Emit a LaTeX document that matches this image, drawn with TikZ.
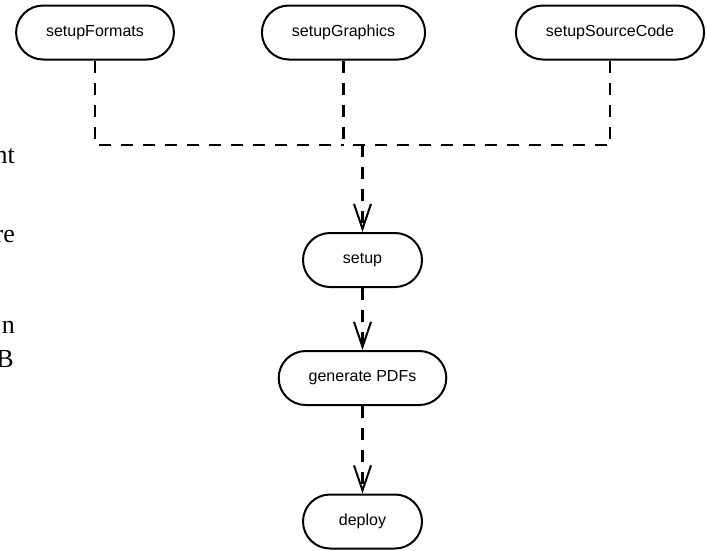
\documentclass[tikz,border=0pt]{standalone}
\usepackage{fontspec}
\setmainfont{Liberation Serif}
\newfontfamily\boxfont{Liberation Sans}
\usetikzlibrary{arrows.meta}
\begin{document}
\begin{tikzpicture}[x=1pt,y=-1pt,
  act/.style={draw, line width=2pt, rounded corners=27pt, minimum height=54pt,
    minimum width=119pt, inner xsep=30pt, inner ysep=0pt,
    font=\boxfont\fontsize{16}{19}\selectfont},
  flow/.style={line width=2.4pt, dash pattern=on 12pt off 10pt},
  arr/.style={flow, -{Straight Barb[length=25pt,width=17pt,line width=2pt]}},
  side/.style={font=\fontsize{26}{30}\selectfont, anchor=base east, inner sep=0pt}]
\useasboundingbox (0,0) rectangle (707,550);
\clip (0,0) rectangle (707,550);
% clipped text at the left edge
\node[side] (t1) at (15,163) {nt};
\node[side] (t2) at (15,242) {re};
\node[side] (t3) at (15,333) {n};
\node[side] (t4) at (14,367) {B};
% activities
\node[act] (sf)  at (95,32.5)  {setupFormats};
\node[act] (sg)  at (343.5,32.5) {setupGraphics};
\node[act] (ssc) at (610,32.5) {setupSourceCode};
\node[act] (setup) at (362.5,260) {setup};
\node[act] (gen) at (362.5,378) {generate PDFs};
\node[act] (dep) at (362.5,521.5) {deploy};
% join
\coordinate (jl) at (343.5,145);
\coordinate (jr) at (362.5,145);
\draw[flow] (sf.south) |- (jl);
\draw[flow] (sg.south) -- (jl);
\draw[flow] (ssc.south) |- (jl);
\draw[arr] (jr) -- (setup.north);
\draw[arr] (setup.south) -- (gen.north);
\draw[arr] (gen.south) -- (dep.north);
\end{tikzpicture}
\end{document}
